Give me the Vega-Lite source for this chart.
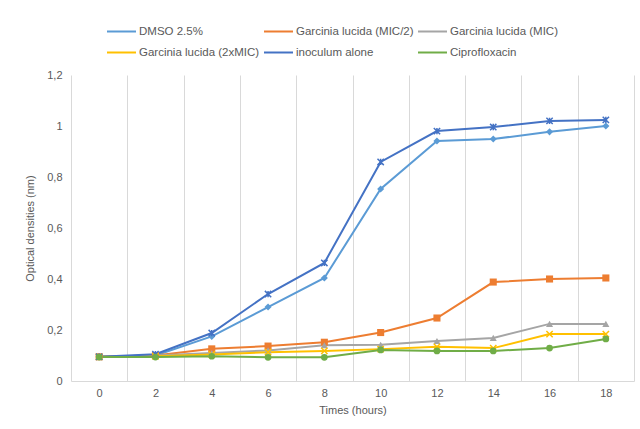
{
  "$schema": "https://vega.github.io/schema/vega-lite/v6.json",
  "autosize": {"type": "none"},
  "width": 563,
  "height": 306,
  "padding": {"left": 71, "top": 75, "right": 6, "bottom": 48},
  "background": "white",
  "config": {
    "font": "Liberation Sans",
    "view": {"stroke": null},
    "axis": {"labelColor": "#595959", "titleColor": "#595959", "labelFontSize": 11, "titleFontSize": 11, "titleFontWeight": "normal"}
  },
  "data": {"values": [
    {"t": 0, "series": "DMSO 2.5%", "od": 0.095},
    {"t": 2, "series": "DMSO 2.5%", "od": 0.100},
    {"t": 4, "series": "DMSO 2.5%", "od": 0.175},
    {"t": 6, "series": "DMSO 2.5%", "od": 0.290},
    {"t": 8, "series": "DMSO 2.5%", "od": 0.404},
    {"t": 10, "series": "DMSO 2.5%", "od": 0.753},
    {"t": 12, "series": "DMSO 2.5%", "od": 0.941},
    {"t": 14, "series": "DMSO 2.5%", "od": 0.949},
    {"t": 16, "series": "DMSO 2.5%", "od": 0.977},
    {"t": 18, "series": "DMSO 2.5%", "od": 1.000},
    {"t": 0, "series": "Garcinia lucida (MIC/2)", "od": 0.095},
    {"t": 2, "series": "Garcinia lucida (MIC/2)", "od": 0.100},
    {"t": 4, "series": "Garcinia lucida (MIC/2)", "od": 0.126},
    {"t": 6, "series": "Garcinia lucida (MIC/2)", "od": 0.137},
    {"t": 8, "series": "Garcinia lucida (MIC/2)", "od": 0.152},
    {"t": 10, "series": "Garcinia lucida (MIC/2)", "od": 0.190},
    {"t": 12, "series": "Garcinia lucida (MIC/2)", "od": 0.247},
    {"t": 14, "series": "Garcinia lucida (MIC/2)", "od": 0.388},
    {"t": 16, "series": "Garcinia lucida (MIC/2)", "od": 0.400},
    {"t": 18, "series": "Garcinia lucida (MIC/2)", "od": 0.404},
    {"t": 0, "series": "Garcinia lucida  (MIC)", "od": 0.095},
    {"t": 2, "series": "Garcinia lucida  (MIC)", "od": 0.100},
    {"t": 4, "series": "Garcinia lucida  (MIC)", "od": 0.110},
    {"t": 6, "series": "Garcinia lucida  (MIC)", "od": 0.120},
    {"t": 8, "series": "Garcinia lucida  (MIC)", "od": 0.140},
    {"t": 10, "series": "Garcinia lucida  (MIC)", "od": 0.142},
    {"t": 12, "series": "Garcinia lucida  (MIC)", "od": 0.157},
    {"t": 14, "series": "Garcinia lucida  (MIC)", "od": 0.169},
    {"t": 16, "series": "Garcinia lucida  (MIC)", "od": 0.224},
    {"t": 18, "series": "Garcinia lucida  (MIC)", "od": 0.224},
    {"t": 0, "series": "Garcinia lucida (2xMIC)", "od": 0.095},
    {"t": 2, "series": "Garcinia lucida (2xMIC)", "od": 0.097},
    {"t": 4, "series": "Garcinia lucida (2xMIC)", "od": 0.104},
    {"t": 6, "series": "Garcinia lucida (2xMIC)", "od": 0.113},
    {"t": 8, "series": "Garcinia lucida (2xMIC)", "od": 0.118},
    {"t": 10, "series": "Garcinia lucida (2xMIC)", "od": 0.125},
    {"t": 12, "series": "Garcinia lucida (2xMIC)", "od": 0.134},
    {"t": 14, "series": "Garcinia lucida (2xMIC)", "od": 0.129},
    {"t": 16, "series": "Garcinia lucida (2xMIC)", "od": 0.184},
    {"t": 18, "series": "Garcinia lucida (2xMIC)", "od": 0.184},
    {"t": 0, "series": "inoculum alone", "od": 0.095},
    {"t": 2, "series": "inoculum alone", "od": 0.105},
    {"t": 4, "series": "inoculum alone", "od": 0.188},
    {"t": 6, "series": "inoculum alone", "od": 0.341},
    {"t": 8, "series": "inoculum alone", "od": 0.463},
    {"t": 10, "series": "inoculum alone", "od": 0.859},
    {"t": 12, "series": "inoculum alone", "od": 0.980},
    {"t": 14, "series": "inoculum alone", "od": 0.996},
    {"t": 16, "series": "inoculum alone", "od": 1.020},
    {"t": 18, "series": "inoculum alone", "od": 1.024},
    {"t": 0, "series": "Ciprofloxacin", "od": 0.094},
    {"t": 2, "series": "Ciprofloxacin", "od": 0.094},
    {"t": 4, "series": "Ciprofloxacin", "od": 0.097},
    {"t": 6, "series": "Ciprofloxacin", "od": 0.093},
    {"t": 8, "series": "Ciprofloxacin", "od": 0.093},
    {"t": 10, "series": "Ciprofloxacin", "od": 0.122},
    {"t": 12, "series": "Ciprofloxacin", "od": 0.118},
    {"t": 14, "series": "Ciprofloxacin", "od": 0.118},
    {"t": 16, "series": "Ciprofloxacin", "od": 0.129},
    {"t": 18, "series": "Ciprofloxacin", "od": 0.165}
  ]},
  "resolve": {"axis": {"x": "independent"}},
  "layer": [
    {
      "mark": {"type": "line", "strokeWidth": 2},
      "encoding": {
        "x": {"field": "t", "type": "quantitative",
          "scale": {"domain": [-1, 19], "nice": false, "zero": false},
          "axis": {"values": [0, 2, 4, 6, 8, 10, 12, 14, 16, 18], "grid": false, "ticks": false, "domainColor": "#D9D9D9", "domainWidth": 1, "labelPadding": 6, "title": "Times (hours)", "titlePadding": 6}},
        "y": {"field": "od", "type": "quantitative",
          "scale": {"domain": [0, 1.2], "nice": false},
          "axis": {"values": [0, 0.2, 0.4, 0.6, 0.8, 1, 1.2], "format": "~g", "labelExpr": "replace(datum.label, '.', ',')", "grid": false, "ticks": false, "domain": false, "labelPadding": 9, "title": "Optical densities (nm)", "titlePadding": 11}},
        "color": {"field": "series", "type": "nominal",
          "scale": {"domain": ["DMSO 2.5%", "Garcinia lucida (MIC/2)", "Garcinia lucida  (MIC)", "Garcinia lucida (2xMIC)", "inoculum alone", "Ciprofloxacin"],
                    "range": ["#5B9BD5", "#ED7D31", "#A5A5A5", "#FFC000", "#4472C4", "#70AD47"]},
          "legend": {"title": null, "orient": "none", "legendX": 35, "legendY": -59, "direction": "horizontal", "columns": 3,
                     "symbolType": "stroke", "symbolSize": 841, "symbolStrokeWidth": 2, "labelFontSize": 11.5, "labelColor": "#595959",
                     "labelOffset": 2, "columnPadding": 0, "rowPadding": 0, "labelLimit": 300}}
      }
    },
    {
      "transform": [{"filter": "datum.series === 'DMSO 2.5%'"}],
      "mark": {"type": "point", "shape": "diamond", "filled": true, "opacity": 1, "size": 50, "color": "#5B9BD5"},
      "encoding": {
        "x": {"field": "t", "type": "quantitative",
          "axis": {"orient": "top", "values": [-1, 1, 3, 5, 7, 9, 11, 13, 15, 17, 19], "grid": true, "gridColor": "#D9D9D9", "gridWidth": 1, "labels": false, "ticks": false, "domain": false, "title": null}},
        "y": {"field": "od", "type": "quantitative"}
      }
    },
    {
      "transform": [{"filter": "datum.series === 'Garcinia lucida (MIC/2)'"}],
      "mark": {"type": "point", "shape": "square", "filled": true, "opacity": 1, "size": 50, "color": "#ED7D31"},
      "encoding": {
        "x": {"field": "t", "type": "quantitative", "axis": null},
        "y": {"field": "od", "type": "quantitative"}
      }
    },
    {
      "transform": [{"filter": "datum.series === 'Garcinia lucida  (MIC)'"}],
      "mark": {"type": "point", "shape": "triangle-up", "filled": true, "opacity": 1, "size": 50, "color": "#A5A5A5"},
      "encoding": {
        "x": {"field": "t", "type": "quantitative", "axis": null},
        "y": {"field": "od", "type": "quantitative"}
      }
    },
    {
      "transform": [{"filter": "datum.series === 'Garcinia lucida (2xMIC)'"}],
      "mark": {"type": "point", "shape": "M-1,-1L1,1M-1,1L1,-1", "filled": false, "opacity": 1, "size": 40, "strokeWidth": 1.5, "color": "#FFC000"},
      "encoding": {
        "x": {"field": "t", "type": "quantitative", "axis": null},
        "y": {"field": "od", "type": "quantitative"}
      }
    },
    {
      "transform": [{"filter": "datum.series === 'inoculum alone'"}],
      "mark": {"type": "point", "shape": "M-1,-1L1,1M-1,1L1,-1M0,-1L0,1", "filled": false, "opacity": 1, "size": 40, "strokeWidth": 1.5, "color": "#4472C4"},
      "encoding": {
        "x": {"field": "t", "type": "quantitative", "axis": null},
        "y": {"field": "od", "type": "quantitative"}
      }
    },
    {
      "transform": [{"filter": "datum.series === 'Ciprofloxacin'"}],
      "mark": {"type": "point", "shape": "circle", "filled": true, "opacity": 1, "size": 45, "color": "#70AD47"},
      "encoding": {
        "x": {"field": "t", "type": "quantitative", "axis": null},
        "y": {"field": "od", "type": "quantitative"}
      }
    }
  ]
}
